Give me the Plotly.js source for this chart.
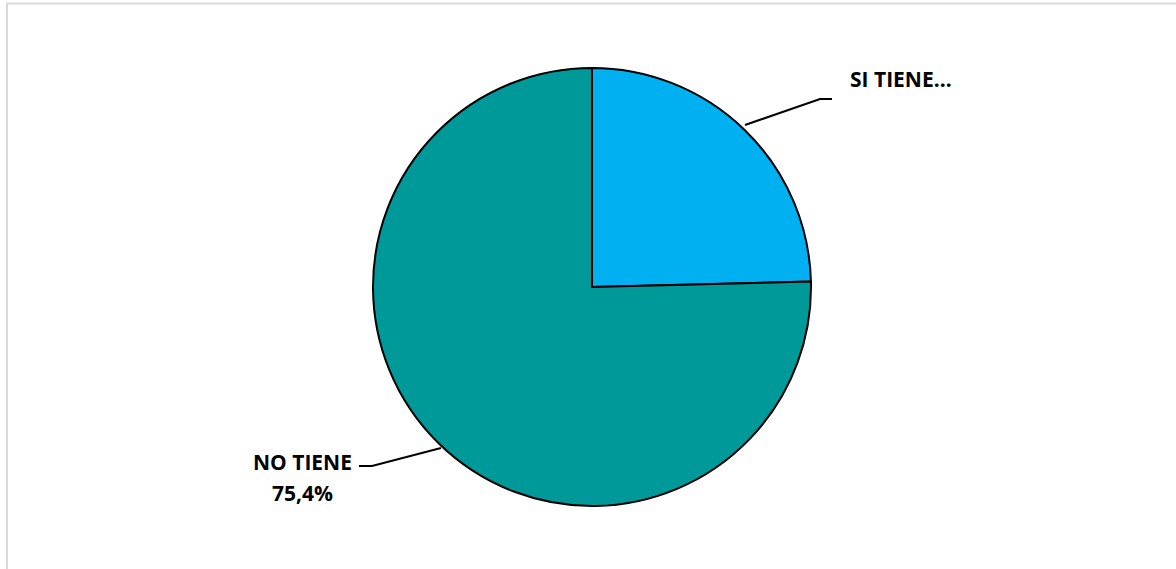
<!DOCTYPE html>
<html>
<head>
<meta charset="utf-8">
<script src="https://cdn.plot.ly/plotly-3.0.1.min.js"></script>
<style>html,body{margin:0;padding:0;background:#fff;}#chart{width:1176px;height:569px;}</style>
</head>
<body>
<div id="chart"></div>
<script>
const categories = ["SI TIENE", "NO TIENE"];
const values = [24.6, 75.4];
const labelNames = ["SI TIENE…", "NO TIENE"];
const labelPercents = ["", "75,4%"];
const colors = ["#00B0F0", "#009999"];

const W = 1176, H = 569;
const px = x => x / W;
const py = y => 1 - y / H;
const FONT = { size: 21, family: "Open Sans, sans-serif", color: "#000" };

const trace = {
  type: "pie",
  labels: categories,
  values: values,
  sort: false,
  direction: "clockwise",
  rotation: 0,
  textinfo: "none",
  hoverinfo: "label+percent",
  marker: { colors: colors, line: { color: "#000000", width: 2 } },
  domain: { x: [px(373), px(811)], y: [py(506), py(68)] },
  showlegend: false
};

const layout = {
  width: W, height: H,
  margin: { l: 0, r: 0, t: 0, b: 0 },
  paper_bgcolor: "#ffffff",
  font: { family: "Open Sans, Liberation Sans, sans-serif", color: "#000" },
  showlegend: false,
  annotations: [
    { text: "<b>" + labelNames[0] + "</b>", x: px(848), y: py(79), xref: "paper", yref: "paper",
      xanchor: "left", yanchor: "middle", showarrow: false, font: FONT },
    { text: "<b>" + labelNames[1] + "</b>", x: px(302), y: py(462), xref: "paper", yref: "paper",
      xanchor: "center", yanchor: "middle", showarrow: false, font: FONT },
    { text: "<b>" + labelPercents[1] + "</b>", x: px(302), y: py(493), xref: "paper", yref: "paper",
      xanchor: "center", yanchor: "middle", showarrow: false, font: FONT }
  ],
  shapes: [
    { type: "path", xref: "paper", yref: "paper",
      path: `M ${px(745)} ${py(125)} L ${px(820)} ${py(99)} L ${px(832)} ${py(99)}`,
      line: { color: "#000", width: 2 } },
    { type: "path", xref: "paper", yref: "paper",
      path: `M ${px(441)} ${py(448)} L ${px(372)} ${py(466)} L ${px(359)} ${py(466)}`,
      line: { color: "#000", width: 2 } },
    { type: "rect", xref: "paper", yref: "paper",
      x0: px(7), x1: px(1190), y0: py(590), y1: py(3.5),
      line: { color: "#D9D9D9", width: 2 } }
  ]
};

Plotly.newPlot("chart", [trace], layout, { displayModeBar: false, staticPlot: true });
</script>
</body>
</html>
